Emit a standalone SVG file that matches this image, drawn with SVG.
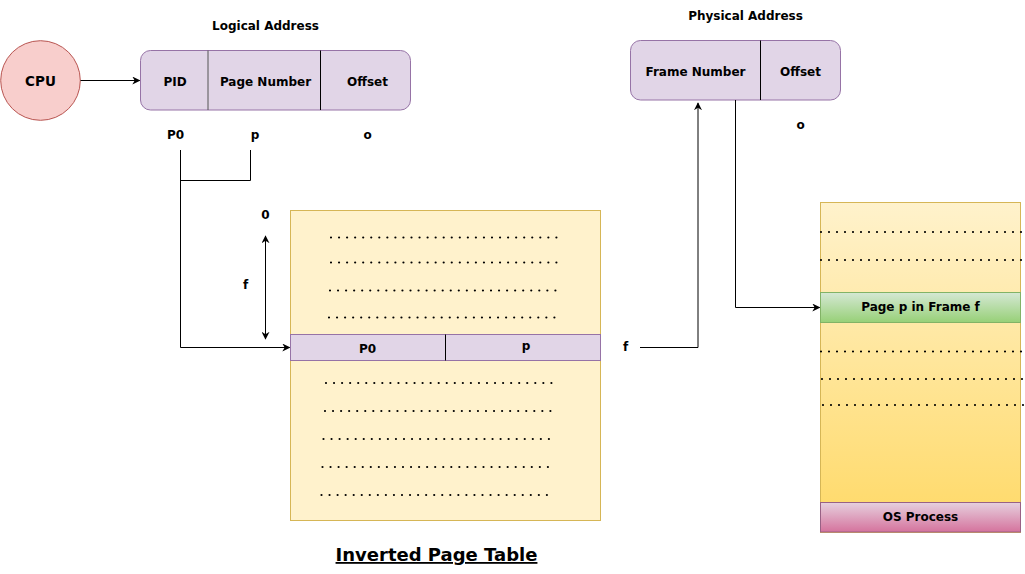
<svg xmlns="http://www.w3.org/2000/svg" width="1025" height="574" viewBox="0 0 1025 574">
<style>
text{font-family:"DejaVu Sans",Verdana,sans-serif;font-weight:bold;font-size:12px;fill:#000;text-anchor:middle}
.edge{fill:none;stroke:#000;stroke-width:1}
.purple{fill:#e1d5e7;stroke:#9673a6;stroke-width:1}
.div{stroke:#000;stroke-width:1}
.dots{stroke:#000;stroke-width:2.2;stroke-linecap:round;stroke-dasharray:0 8.05}
</style>
<defs>
<marker id="arr" viewBox="0 0 10 10" refX="9" refY="5" markerWidth="8" markerHeight="8" markerUnits="userSpaceOnUse" orient="auto-start-reverse">
<path d="M0,0 L10,5 L0,10 L3,5 Z" fill="#000"/>
</marker>
<linearGradient id="gMem" x1="0" y1="0" x2="0" y2="1"><stop offset="0" stop-color="#fff2cc"/><stop offset="1" stop-color="#ffd966"/></linearGradient>
<linearGradient id="gGreen" x1="0" y1="0" x2="0" y2="1"><stop offset="0" stop-color="#d5e8d4"/><stop offset="1" stop-color="#97d077"/></linearGradient>
<linearGradient id="gPink" x1="0" y1="0" x2="0" y2="1"><stop offset="0" stop-color="#e6d0de"/><stop offset="1" stop-color="#d5739d"/></linearGradient>
</defs>

<g id="cpu">
<circle cx="40.5" cy="80.5" r="39.8" fill="#f8cecc" stroke="#b85450"/>
<text x="40.5" y="85.5" style="font-size:13.5px">CPU</text>
</g>

<g id="logical-address">
<text x="265.5" y="30">Logical Address</text>
<rect x="140.5" y="50.5" width="270" height="59.5" rx="10" class="purple"/>
<line x1="208" y1="50.5" x2="208" y2="110" stroke="#555"/>
<line x1="320.5" y1="50.5" x2="320.5" y2="110" class="div"/>
<text x="175" y="85.5">PID</text>
<text x="265.5" y="85.5">Page Number</text>
<text x="367.5" y="86">Offset</text>
<text x="175.5" y="139">P0</text>
<text x="255" y="139">p</text>
<text x="367.5" y="139">o</text>
</g>

<g id="physical-address">
<text x="745.5" y="20">Physical Address</text>
<rect x="630.5" y="40.5" width="210" height="59.5" rx="10" class="purple"/>
<line x1="760.5" y1="40.5" x2="760.5" y2="100" class="div"/>
<text x="695.5" y="75.5">Frame Number</text>
<text x="800.5" y="75.5">Offset</text>
<text x="800.5" y="128.5">o</text>
</g>

<g id="inverted-page-table">
<rect x="290.5" y="210.5" width="310" height="310" fill="#fff2cc" stroke="#d6b656"/>
<line x1="331" y1="237.5" x2="558" y2="237.5" class="dots"/>
<line x1="331" y1="262.5" x2="558" y2="262.5" class="dots"/>
<line x1="330" y1="290.5" x2="557" y2="290.5" class="dots"/>
<line x1="329" y1="317.5" x2="556" y2="317.5" class="dots"/>
<rect x="290.5" y="334.5" width="310" height="26" class="purple"/>
<line x1="445.5" y1="334.5" x2="445.5" y2="360.5" class="div"/>
<text x="367.5" y="353">P0</text>
<text x="526" y="350">p</text>
<line x1="326" y1="383" x2="553" y2="383" class="dots"/>
<line x1="325" y1="411" x2="552" y2="411" class="dots"/>
<line x1="323.5" y1="439" x2="550" y2="439" class="dots"/>
<line x1="322.5" y1="467" x2="549" y2="467" class="dots"/>
<line x1="321.5" y1="495" x2="548" y2="495" class="dots"/>
<text x="265.5" y="219">0</text>
<text x="245.5" y="289">f</text>
<text x="625.5" y="351">f</text>
<text x="436.5" y="561" style="font-size:18px;text-decoration:underline">Inverted Page Table</text>
</g>

<g id="memory">
<rect x="820.5" y="202.5" width="200" height="330" fill="url(#gMem)" stroke="#d6b656"/>
<line x1="821" y1="232" x2="1022" y2="232" class="dots" style="stroke-dasharray:0 8"/>
<line x1="821" y1="260" x2="1022" y2="260" class="dots" style="stroke-dasharray:0 8"/>
<rect x="820.5" y="292.5" width="200" height="30" fill="url(#gGreen)" stroke="#82b366"/>
<text x="920.5" y="311">Page p in Frame f</text>
<line x1="821" y1="351.5" x2="1022" y2="351.5" class="dots" style="stroke-dasharray:0 8"/>
<line x1="822" y1="379" x2="1023" y2="379" class="dots" style="stroke-dasharray:0 8"/>
<line x1="823" y1="405" x2="1024" y2="405" class="dots" style="stroke-dasharray:0 8"/>
<rect x="820.5" y="502.5" width="200" height="29.5" fill="url(#gPink)" stroke="#996185"/>
<text x="920.5" y="521">OS Process</text>
</g>

<g id="connectors">
<line x1="80.5" y1="80.5" x2="139.5" y2="80.5" class="edge" marker-end="url(#arr)"/>
<path d="M180.5,150 V347.5 H289.5" class="edge" marker-end="url(#arr)"/>
<path d="M250.5,150 V180.5 H180.5" class="edge"/>
<line x1="265.5" y1="236" x2="265.5" y2="339" class="edge" marker-start="url(#arr)" marker-end="url(#arr)"/>
<path d="M640,347.5 H698 V103" class="edge" marker-end="url(#arr)"/>
<path d="M735.5,100 V307.5 H819.5" class="edge" marker-end="url(#arr)"/>
</g>
</svg>
